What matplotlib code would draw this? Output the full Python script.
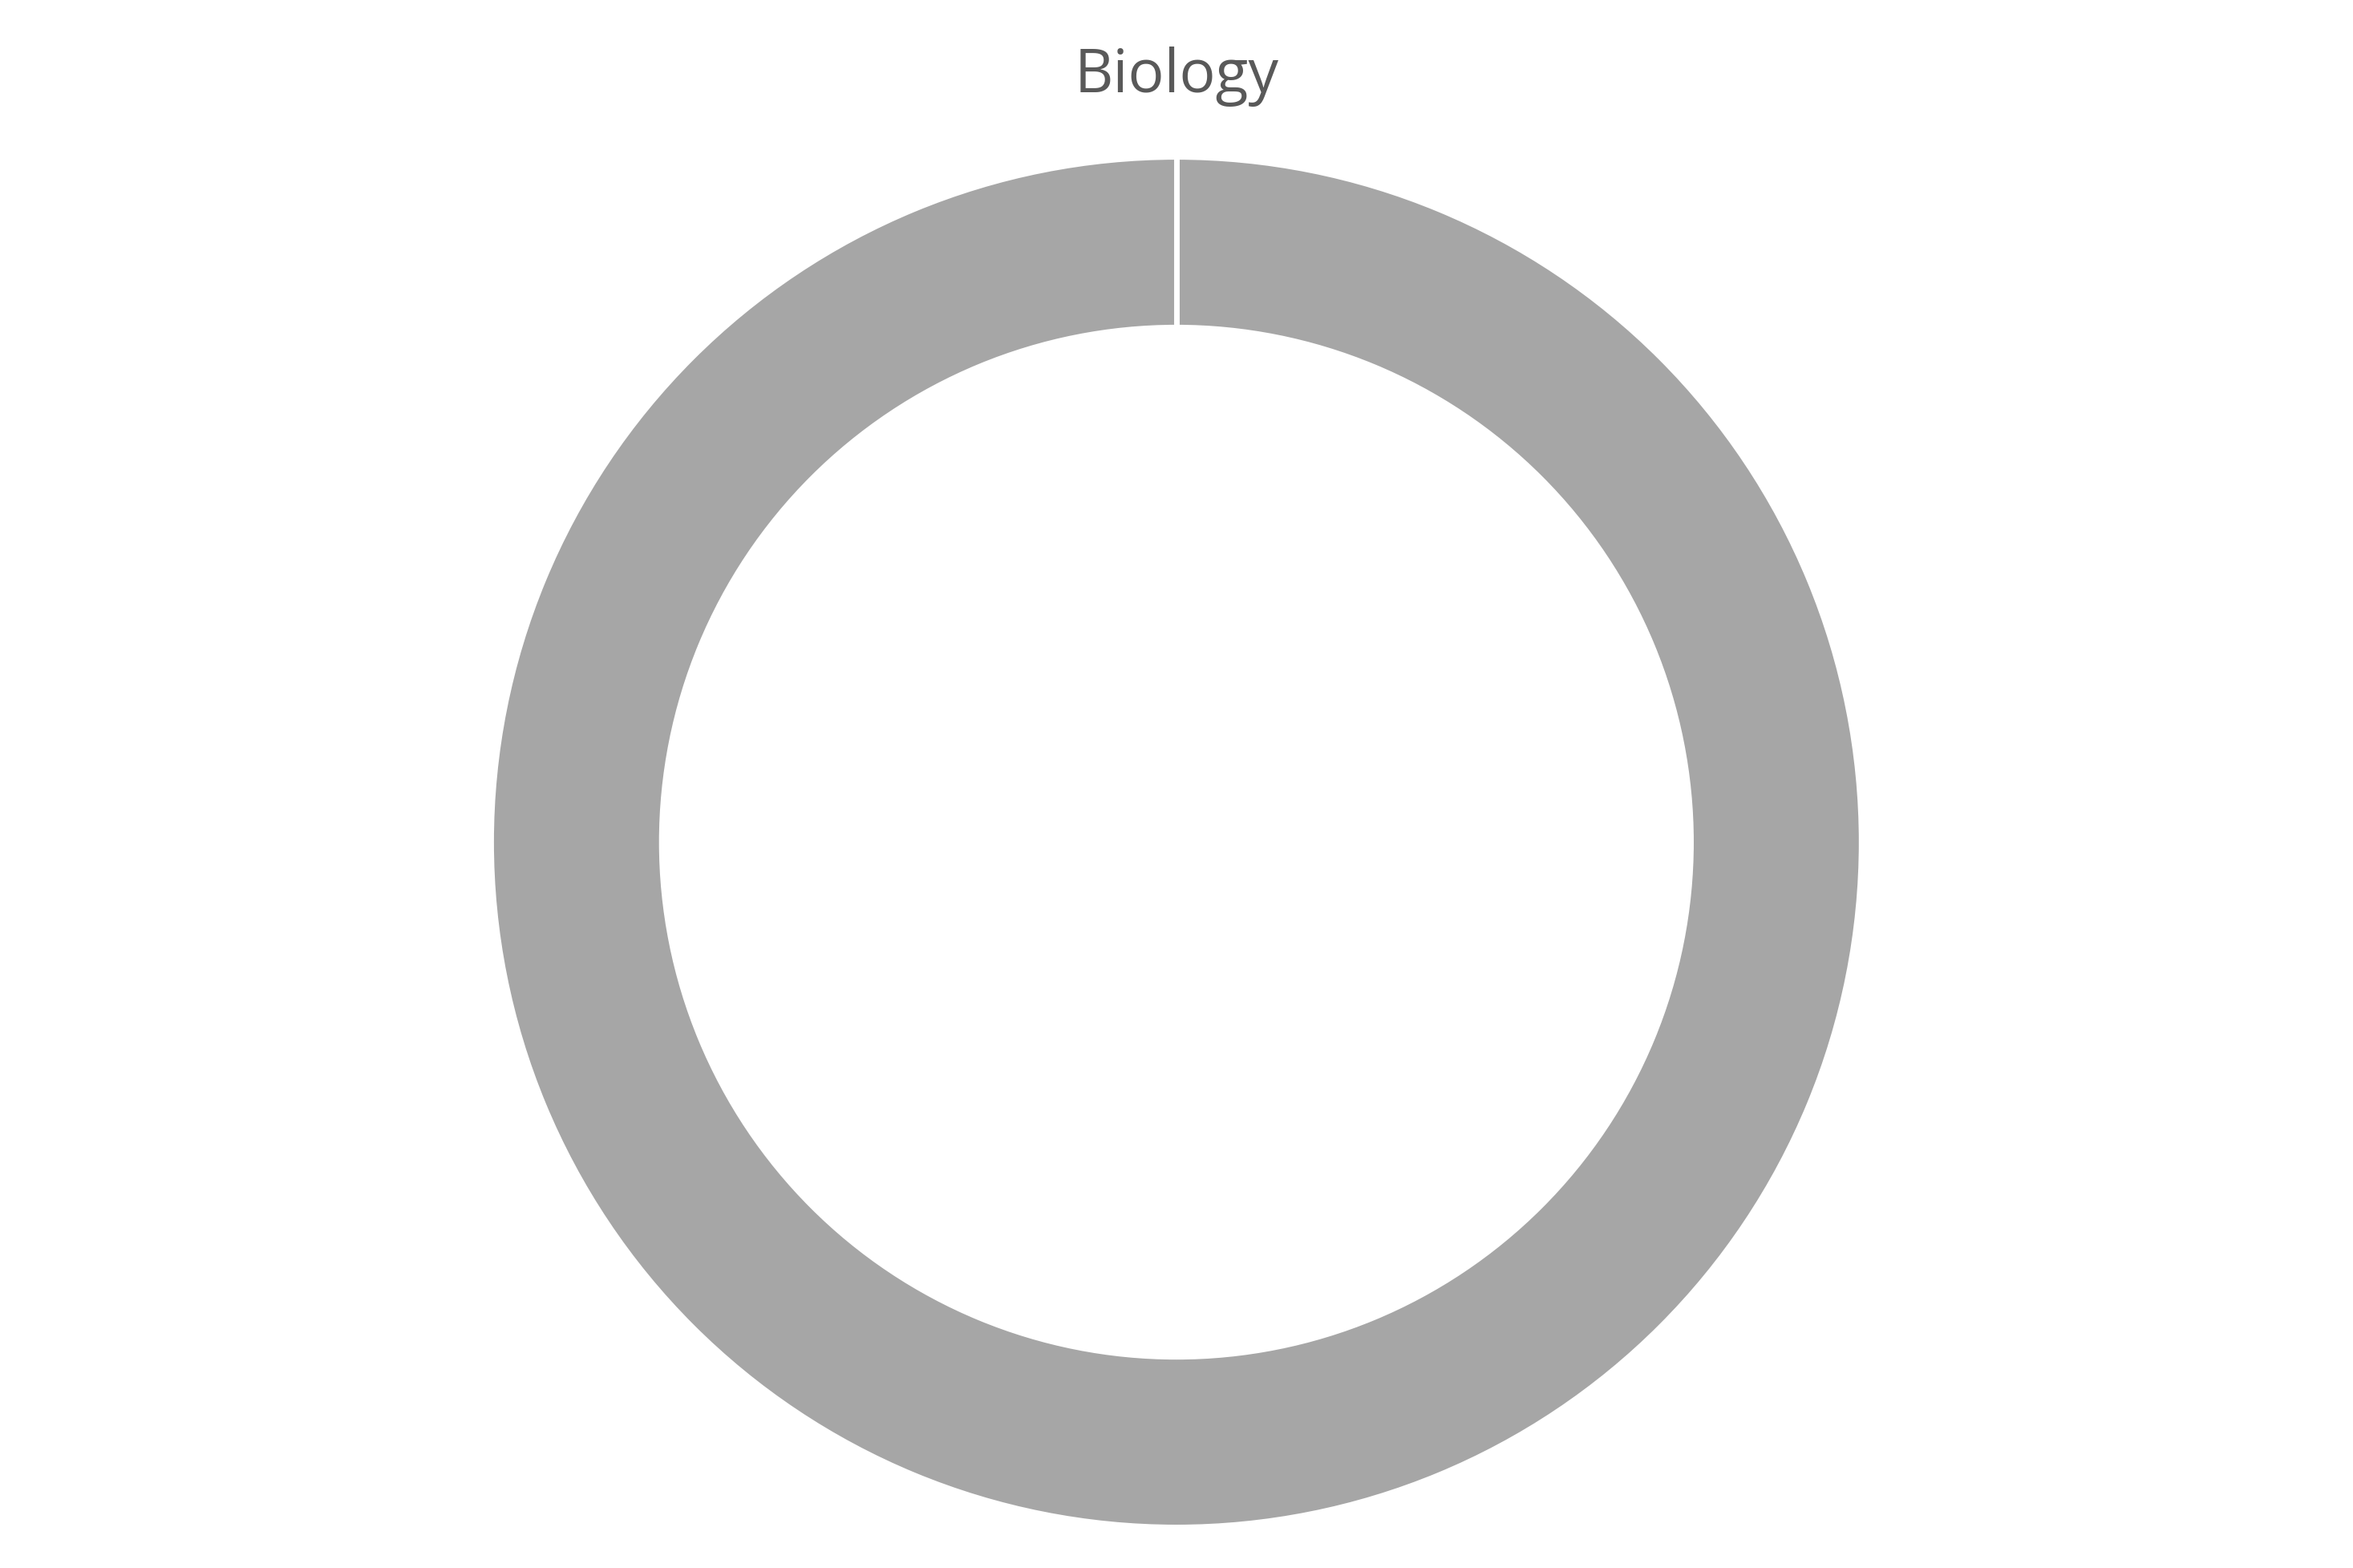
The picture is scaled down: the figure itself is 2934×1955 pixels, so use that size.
import matplotlib.pyplot as plt

# data
title = 'Biology'
categories = ['Biology']
values = [100]
colors = ['#A6A6A6']

outer_r = 1.004
ring_w = 0.25

fig = plt.figure(figsize=(29.34, 19.55), dpi=100)
ax = fig.add_axes([0.2099, 0.0276, 0.5801, 0.8706])

wedges, _ = ax.pie(
    values,
    labels=None,
    colors=colors,
    startangle=90,
    counterclock=False,
    radius=outer_r,
    wedgeprops=dict(width=ring_w, edgecolor='white', linewidth=5),
)

# a full ring has no radial edge, so draw the seam where the slice starts
import numpy as np
for w in wedges:
    t = np.deg2rad(w.theta2)
    r = np.array([w.r - w.width - 0.01, w.r + 0.01])
    ax.plot(r * np.cos(t), r * np.sin(t), color='white', lw=5, solid_capstyle='butt')

ax.set_xlim(-1, 1)
ax.set_ylim(-1, 1)
ax.set_aspect('equal')
ax.axis('off')

fig.text(0.5, 1 - 115 / 1955, title, ha='center', va='baseline',
         fontsize=54, color='#595959', family=['Open Sans', 'DejaVu Sans'])

fig.savefig('out.png', dpi=100, facecolor='white')
